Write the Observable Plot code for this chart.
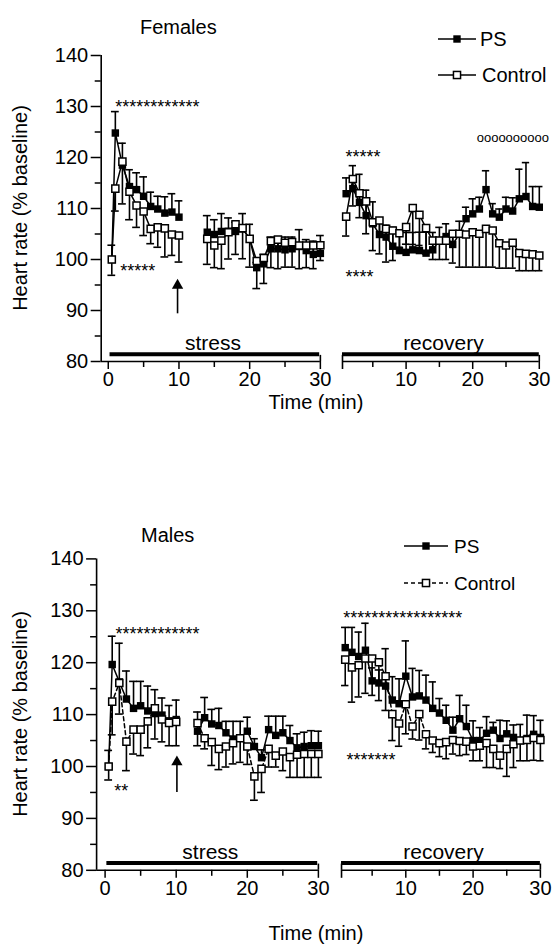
<!DOCTYPE html>
<html>
<head>
<meta charset="utf-8">
<script src="https://cdn.jsdelivr.net/npm/d3@7"></script>
<script src="https://cdn.jsdelivr.net/npm/@observablehq/plot@0.6"></script>
<style>
  html,body{margin:0;padding:0;background:#fff;}
  #fig{position:relative;width:553px;height:944px;overflow:hidden;background:#fff;}
  #fig svg{position:absolute;overflow:visible;}
</style>
</head>
<body>
<div id="fig"></div>
<script>
// ---------------- DATA ----------------
const yMajor = [80, 90, 100, 110, 120, 130, 140];
const yMinor = [85, 95, 105, 115, 125, 135];
const stressTicks = [0, 10, 20, 30];
const stressMinor = [5, 15, 25];
const recoveryTicks = [10, 20, 30];
const recoveryMinor = [5, 15, 25];

const stressT1 = [0.5, 1, 2, 3, 4, 5, 6, 7, 8, 9, 10];
const recoveryT = [1,2,3,4,5,6,7,8,9,10,11,12,13,14,15,16,17,18,19,20,21,22,23,24,25,26,27,28,29,30];

// Females
const femStressT2 = [14,15,16,17,18,19,20,21,22,23,24,25,26,27,28,29,30];
const femPS1     = [100,124.8,118.5,114.3,113.7,112.4,110.4,109.9,109.1,109.3,108.3];
const femPS1Err  = [2.8,4.2,4.3,3.3,3.3,3.8,2.8,2.5,3.2,3.6,3.2];
const femCtl1    = [100,113.9,119.2,113.3,110.6,109.4,106.0,106.3,106.1,104.9,104.7];
const femCtl1Err = [3.1,4.4,8.3,5.5,4.3,4.7,2.9,3.9,5.6,4.1,5.2];
const femPS2     = [105.35,104.9,105.5,105.55,105.5,106.0,104.05,98.4,99.15,102.1,102.1,101.9,102.1,102.55,101.75,101.0,101.2];
const femPS2Err  = [3.25,2.9,3.5,2.6,1.8,3.0,2.85,1.0,1.85,2.3,2.2,2.5,2.3,3.3,2.15,2.6,3.5];
const femCtl2    = [104.05,102.75,103.7,105.35,106.9,106.15,104.05,99.7,100.3,103.6,103.9,103.3,103.4,102.75,102.75,102.75,102.8];
const femCtl2Err = [5,4.35,5.5,5.25,5.9,6,5.55,5.4,5,5.2,5.7,4.8,4.9,4.55,4.35,4.55,3];
const femRecPS     = [112.9,113.9,111.2,108.6,107.0,104.9,104.4,102.6,101.75,101.4,101.9,101.75,101.25,101.9,103.7,104.5,102.95,105.0,108.0,108.95,109.9,113.7,108.95,108.3,109.9,109.5,111.9,112.35,110.4,110.25];
const femRecPSErr  = [3.1,4.5,5.5,5.0,4.3,3.1,2.3,3.7,3.9,3.9,3.4,3.6,4.1,3.4,2.6,2.5,2.4,2.5,2.25,2.95,2.3,3.7,2.0,1.6,2.3,2.6,5.8,6.65,3.9,4.05];
const femRecCtl    = [108.4,115.8,113.0,111.4,107.3,107.65,106.0,105.7,105.15,106.35,110.1,108.75,106.15,103.7,103.7,103.7,105.05,105.05,104.9,105.35,105.05,106.0,105.7,103.2,102.75,103.3,101.25,101.1,101.0,100.8];
const femRecCtlErr = [3.8,5.3,4.8,6.35,5.55,6.55,6.5,5.9,2.75,3.35,7.15,6.0,5.05,3.7,3.7,3.7,5.75,6.55,6.4,6.85,6.55,7.5,7.2,4.9,4.45,5.0,3.45,3.3,3.2,3.0];

// Males
const maleStressT2 = [13,14,15,16,17,18,19,20,21,22,23,24,25,26,27,28,29,30];
const malePS1     = [100,119.65,116.3,113.0,111.2,111.7,110.7,110.2,109.9,108.8,109.05];
const malePS1Err  = [3.1,5.45,7.45,5.4,5.2,4.7,4.8,4.6,3.3,2.95,3.75];
const maleCtl1    = [100,112.5,116.1,104.8,107.1,107.1,108.7,111.2,109.05,108.4,108.6];
const maleCtl1Err = [2.6,6.4,6.0,5.6,4.7,5.0,5.1,5.9,4.3,4.4,4.6];
const malePS2     = [106.8,109.4,108.2,107.9,106.5,105.3,105.5,106.8,103.85,101.7,107.1,106.0,106.5,105.0,103.6,103.85,104.0,104.0];
const malePS2Err  = [3.7,3.9,2.8,3.3,2.2,3.4,3.2,2.7,1.5,1.5,2.6,3.7,3.2,2.9,2.7,2.75,2.9,2.8];
const maleCtl2    = [108.35,105.45,104.7,103.4,103.85,104.5,105.45,103.85,98.1,99.55,103.4,102.1,102.9,101.8,102.25,102.4,102.4,102.4];
const maleCtl2Err = [4.35,2.05,4.5,4.0,3.95,4.0,4.65,3.45,4.6,4.55,3.5,2.2,3.7,3.9,4.35,4.5,4.5,4.5];
const maleRecPS     = [122.9,122.0,121.2,122.4,116.5,116.1,115.5,112.8,112.1,117.4,113.4,113.6,112.8,111.2,110.3,108.9,107.0,109.2,107.7,105.0,105.0,106.4,107.0,105.4,106.3,105.6,105.0,105.4,106.2,105.6];
const maleRecPSErr  = [3.9,4.8,4.7,5.2,2.5,2.5,7.2,4.5,4.8,6.8,5.5,4.9,4.8,5.1,2.8,2.9,2.5,4.5,4.1,3.8,2.5,3.2,1.5,3.5,2.5,2.4,3.1,4.5,3.6,3.3];
const maleRecCtl    = [120.6,119.1,119.5,120.8,120.8,120.1,117.4,110.1,108.3,112.0,107.7,110.1,106.2,105.0,104.5,104.7,105.1,104.9,104.8,103.85,104.0,104.5,103.4,102.1,103.4,104.3,105.0,105.1,105.5,105.1];
const maleRecCtlErr = [5.0,6.7,6.1,6.7,7.1,7.4,6.6,5.1,4.4,5.7,2.4,5.0,2.8,2.3,2.6,3.2,2.7,2.8,2.5,2.75,2.9,4.7,3.6,2.5,5.3,4.5,3.9,4.0,4.3,4.0];

// Annotations (significance marks, arrow at stress onset)
const femStressNotes = [
  {t: 1.0, y: 130.65, text: "************", size: 18},
  {t: 1.7, y: 98.5,  text: "*****", size: 18}
];
const femRecNotes = [
  {t: 0.9, y: 120.85, text: "*****", size: 18},
  {t: 0.9, y: 97.3,  text: "****", size: 18},
  {t: 20.6, y: 123.7, text: "oooooooooo", size: 13}
];
const maleStressNotes = [
  {t: 1.45, y: 126.3, text: "************", size: 18},
  {t: 1.3,  y: 96.0,  text: "**", size: 18}
];
const maleRecNotes = [
  {t: 0.7, y: 129.3, text: "*****************", size: 18},
  {t: 1.2, y: 102.1, text: "*******", size: 18}
];
const femArrow  = [{t: 9.8,  from: 89.35, to: 96.2}];
const maleArrow = [{t: 10.1, from: 95.0,  to: 102.1}];
const phaseLabels = [{phase: "stress", t: 14.8}, {phase: "recovery", t: 15.6}];

// ---------------- DRAWING ----------------
const FONT = '"Liberation Sans", Arial, Helvetica, sans-serif';
const fig = document.getElementById("fig");

function rows(T, V, E, sec) { return T.map((t, i) => ({t, v: V[i], e: E[i], sec})); }

function series(data, isPS, dashed) {
  const end = d => isPS ? d.v + d.e : d.v - d.e;
  return [
    Plot.ruleX(data, {x: "t", y1: "v", y2: end, stroke: "#000", strokeWidth: 1.6}),
    Plot.ruleY(data, {y: end, x1: d => d.t - 0.55, x2: d => d.t + 0.55, stroke: "#000", strokeWidth: 1.6}),
    Plot.line(data, {x: "t", y: "v", z: "sec", stroke: "#000", strokeWidth: 1.5,
                     strokeDasharray: dashed ? "4,3" : "none"}),
    Plot.dot(data, {x: "t", y: "v", symbol: "square", r: isPS ? 4.2 : 4.0,
                    fill: isPS ? "#000" : "#fff", stroke: "#000", strokeWidth: isPS ? 0 : 1.5})
  ];
}

function notes(arr) {
  return arr.map(n => Plot.text([n], {x: "t", y: "y", text: "text", textAnchor: "start", lineAnchor: "bottom",
      fontSize: n.size, dy: n.size === 13 ? 3.5 : 10, fill: "#000"}));
}

const commonStyle = {background: "transparent", overflow: "visible", fontFamily: FONT, fontSize: "20px", color: "#000"};

function stressPlot(P) {
  const W = 330, H = 472;
  const x0 = P.sv0, x1 = P.sv0 + (W - P.axisLeft) / P.sk;
  const ps = [...rows(stressT1, P.ps1, P.ps1e, "a"), ...rows(P.t2, P.ps2, P.ps2e, "b")];
  const ct = [...rows(stressT1, P.c1, P.c1e, "a"), ...rows(P.t2, P.c2, P.c2e, "b")];
  const lab = phaseLabels.filter(d => d.phase === "stress");
  return Plot.plot({
    width: W, height: H,
    marginLeft: P.axisLeft, marginRight: 0, marginTop: P.y140, marginBottom: H - P.y80,
    x: {domain: [x0, x1], axis: null},
    y: {domain: [80, 140], axis: null},
    style: commonStyle,
    marks: [
      Plot.ruleX([x0], {y1: 80, y2: 140, strokeWidth: 1.6}),
      Plot.ruleY([80], {x1: x0, x2: 30, strokeWidth: 1.6}),
      Plot.axisY({ticks: yMajor, tickSize: 10, tickPadding: 3, strokeWidth: 1.5, label: null, fontSize: 20}),
      Plot.axisY({ticks: yMinor, tickSize: 6, tickFormat: () => "", strokeWidth: 1.5, label: null}),
      Plot.axisX({ticks: stressTicks, tickSize: 8, tickPadding: 2, strokeWidth: 1.5, label: null, fontSize: 20}),
      Plot.axisX({ticks: stressMinor, tickSize: 6, tickFormat: () => "", strokeWidth: 1.5, label: null}),
      Plot.ruleX([30], {y1: 80, y2: 81.2, strokeWidth: 1.6}),
      Plot.ruleY([81.4], {x1: 0.25, x2: 29.9, strokeWidth: 4}),
      Plot.text(lab, {x: "t", y: 81.4, text: "phase", lineAnchor: "bottom", dy: -4, fontSize: 21}),
      ...series(ps, true, false),
      ...series(ct, false, P.dashed),
      Plot.ruleX(P.arrow, {x: "t", y1: "from", y2: d => d.to - 1.5, strokeWidth: 1.6}),
      Plot.dot(P.arrow, {x: "t", y: "to", symbol: "triangle", r: 4.2, fill: "#000", dy: 6.5}),
      ...notes(P.sNotes)
    ]
  });
}

function recoveryPlot(P) {
  const W = 223, H = 472;
  const x0 = P.rv0, x1 = P.rv0 + W / P.rk;
  const ps = rows(recoveryT, P.rps, P.rpse, "r");
  const ct = rows(recoveryT, P.rc, P.rce, "r");
  const lab = phaseLabels.filter(d => d.phase === "recovery");
  return Plot.plot({
    width: W, height: H,
    marginLeft: 0, marginRight: 0, marginTop: P.y140, marginBottom: H - P.y80,
    x: {domain: [x0, x1], axis: null},
    y: {domain: [80, 140], axis: null},
    style: commonStyle,
    marks: [
      Plot.ruleY([80], {x1: P.recStart, x2: 30, strokeWidth: 1.6}),
      Plot.axisX({ticks: recoveryTicks, tickSize: 8, tickPadding: 2, strokeWidth: 1.5, label: null, fontSize: 20}),
      Plot.axisX({ticks: recoveryMinor, tickSize: 6, tickFormat: () => "", strokeWidth: 1.5, label: null}),
      Plot.axisX({ticks: [P.recStart], tickSize: 8, tickFormat: () => "", strokeWidth: 1.6, label: null}),
      Plot.ruleX([P.recStart, 30], {y1: 80, y2: 81.2, strokeWidth: 1.6}),
      Plot.ruleY([81.4], {x1: P.recStart, x2: 30, strokeWidth: 4}),
      Plot.text(lab, {x: "t", y: 81.4, text: "phase", lineAnchor: "bottom", dy: -4, fontSize: 21}),
      ...series(ps, true, false),
      ...series(ct, false, P.dashed),
      ...notes(P.rNotes)
    ]
  });
}

const panels = [
  {top: 0, axisLeft: 100.7, sv0: -1, sk: 7.07, rv0: -9 / 6.66, rk: 6.66, recStart: 0.45,
   y80: 361, y140: 55, dashed: false,
   t2: femStressT2, ps1: femPS1, ps1e: femPS1Err, c1: femCtl1, c1e: femCtl1Err,
   ps2: femPS2, ps2e: femPS2Err, c2: femCtl2, c2e: femCtl2Err,
   rps: femRecPS, rpse: femRecPSErr, rc: femRecCtl, rce: femRecCtlErr,
   arrow: femArrow, sNotes: femStressNotes, rNotes: femRecNotes},
  {top: 472, axisLeft: 96.1, sv0: -1.195, sk: 7.11, rv0: -8 / 6.73, rk: 6.73, recStart: 0.45,
   y80: 397.8, y140: 86.4, dashed: true,
   t2: maleStressT2, ps1: malePS1, ps1e: malePS1Err, c1: maleCtl1, c1e: maleCtl1Err,
   ps2: malePS2, ps2e: malePS2Err, c2: maleCtl2, c2e: maleCtl2Err,
   rps: maleRecPS, rpse: maleRecPSErr, rc: maleRecCtl, rce: maleRecCtlErr,
   arrow: maleArrow, sNotes: maleStressNotes, rNotes: maleRecNotes}
];

for (const P of panels) {
  const s = stressPlot(P);
  s.style.left = "0px"; s.style.top = P.top + "px";
  fig.appendChild(s);
  const r = recoveryPlot(P);
  r.style.left = "330px"; r.style.top = P.top + "px";
  fig.appendChild(r);
}

// ---------- titles, axis titles, legends ----------
const ov = d3.create("svg").attr("width", 553).attr("height", 944)
  .style("left", "0px").style("top", "0px").style("pointer-events", "none")
  .attr("font-family", FONT).attr("fill", "#000");

const labels = [
  {text: "Females", x: 140, y: 27, size: 20, anchor: "start"},
  {text: "Males", x: 141, y: 535, size: 20, anchor: "start"},
  {text: "Time (min)", x: 316, y: 402, size: 20, anchor: "middle"},
  {text: "Time (min)", x: 316, y: 933, size: 20, anchor: "middle"}
];
for (const l of labels) {
  ov.append("text").attr("x", l.x).attr("y", l.y + 0.355 * l.size)
    .attr("font-size", l.size).attr("text-anchor", l.anchor).text(l.text);
}
for (const cy of [208, 714]) {
  ov.append("text").attr("transform", `translate(20,${cy}) rotate(-90)`)
    .attr("y", 0.355 * 20).attr("font-size", 20).attr("text-anchor", "middle")
    .text("Heart rate (% baseline)");
}
const legends = [
  {label: "PS", y: 39, x1: 438, x2: 476, sx: 457, tx: 480, filled: true, dashed: false, size: 20},
  {label: "Control", y: 75, x1: 438, x2: 476, sx: 457, tx: 482, filled: false, dashed: false, size: 20},
  {label: "PS", y: 546, x1: 404, x2: 448, sx: 426, tx: 454, filled: true, dashed: false, size: 19},
  {label: "Control", y: 583, x1: 404, x2: 448, sx: 426, tx: 454, filled: false, dashed: true, size: 19}
];
for (const L of legends) {
  ov.append("line").attr("x1", L.x1).attr("x2", L.x2).attr("y1", L.y).attr("y2", L.y)
    .attr("stroke", "#000").attr("stroke-width", 1.5).attr("stroke-dasharray", L.dashed ? "4,3" : null);
  const s = L.filled ? 7.4 : 7.1;
  ov.append("rect").attr("x", L.sx - s / 2).attr("y", L.y - s / 2).attr("width", s).attr("height", s)
    .attr("fill", L.filled ? "#000" : "#fff").attr("stroke", L.filled ? "none" : "#000").attr("stroke-width", 1.5);
  ov.append("text").attr("x", L.tx).attr("y", L.y + 0.355 * L.size).attr("font-size", L.size).text(L.label);
}
fig.appendChild(ov.node());
</script>
</body>
</html>
